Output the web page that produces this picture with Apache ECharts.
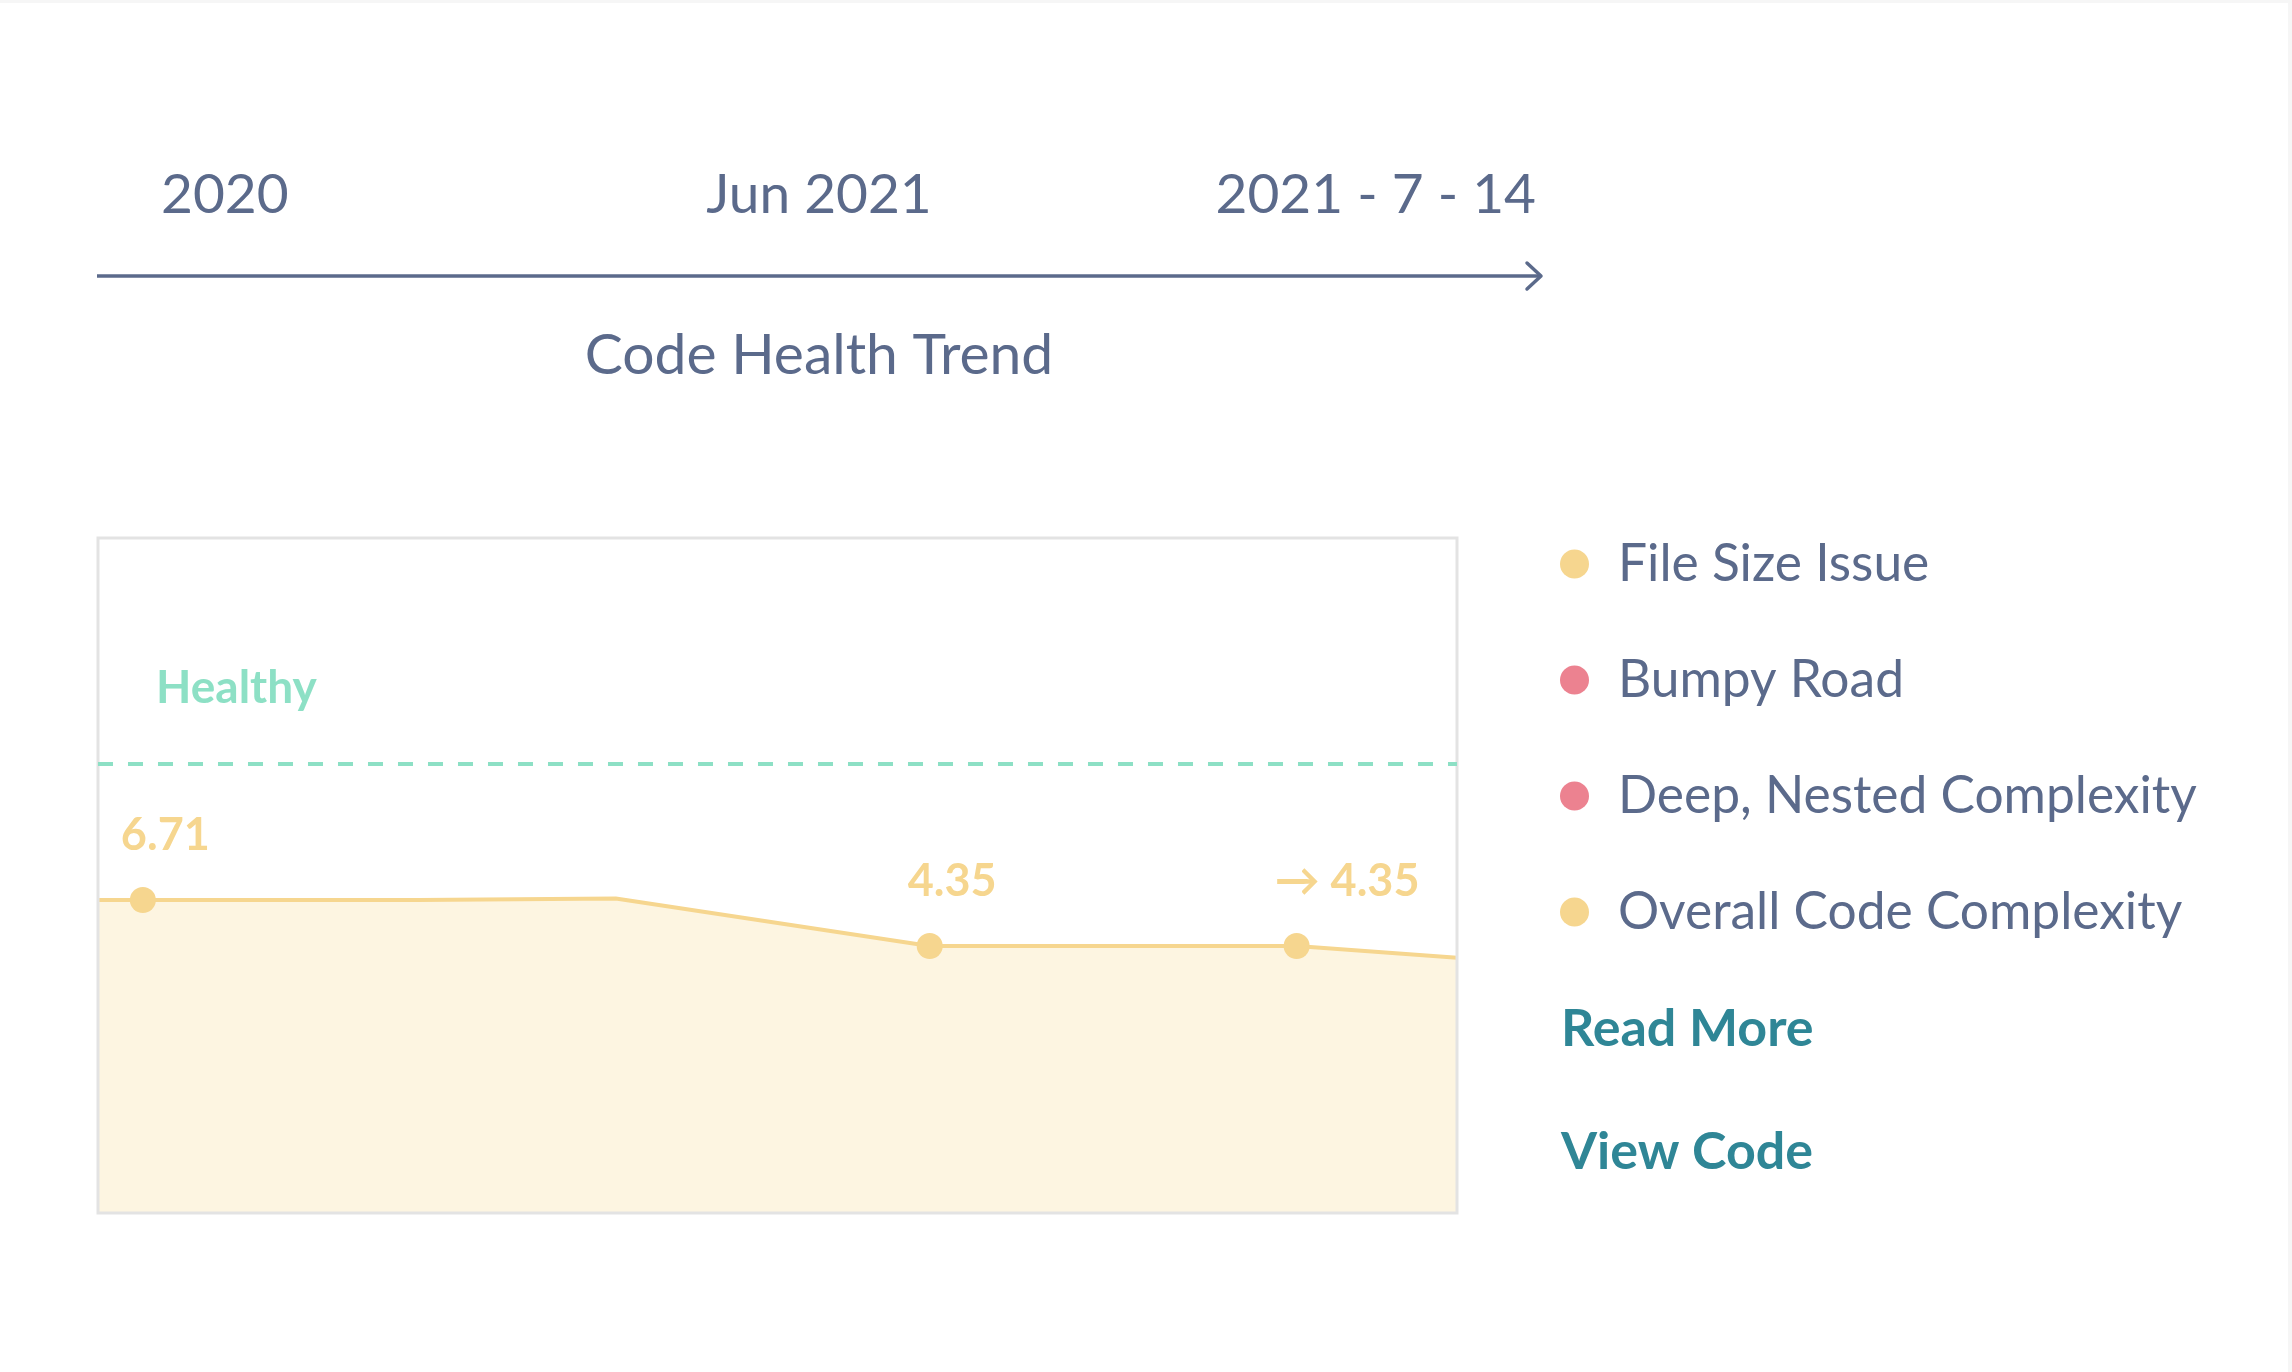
<!DOCTYPE html>
<html>
<head>
<meta charset="utf-8">
<title>Code Health Trend</title>
<script src="https://cdn.jsdelivr.net/npm/echarts@6/dist/echarts.min.js"></script>
<style>
  html, body { margin: 0; padding: 0; background: #fff; }
  #chart { width: 2292px; height: 1372px; }
</style>
</head>
<body>
<div id="chart"></div>
<script>
// timeline above the chart
const timelineLabels = ['2020', 'Jun 2021', '2021 - 7 - 14'];
const chartTitle = 'Code Health Trend';

// trend: position along the period (0 = plot start, 100 = plot end) and score
const trendX = [0, 3.3, 23.6, 38.1, 61.2, 88.2, 100];
const trendScore = [6.71, 6.71, 6.71, 6.78, 4.35, 4.35, 3.74];
const trendMarked = [false, true, false, false, true, true, false];
const trendLabels = ['', '6.71', '', '', '4.35', '→ 4.35', ''];
const healthyLevel = 13.69;
const healthyLabel = 'Healthy';

// issues listed next to the chart
const issueNames = ['File Size Issue', 'Bumpy Road', 'Deep, Nested Complexity', 'Overall Code Complexity'];
const issueSeverity = ['warning', 'problem', 'problem', 'warning'];
const actionLinks = ['Read More', 'View Code'];

const FONT = 'Lato';
const TEXT = '#5b6a8b';
const LINK = '#2f8696';
const YELLOW = '#f6d68f';
const severityColor = { warning: '#f6d68f', problem: '#ec8290' };

const chart = echarts.init(document.getElementById('chart'));

const trendData = trendX.map(function (x, i) {
    const item = { value: [x, trendScore[i]] };
    if (!trendMarked[i]) item.symbol = 'none';
    if (trendLabels[i]) {
        item.label = { show: true, formatter: trendLabels[i] };
    }
    return item;
});

const issueSeries = issueNames.map(function (name, i) {
    return {
        name: name,
        type: 'line',
        data: [],
        itemStyle: { color: severityColor[issueSeverity[i]] }
    };
});

const timelineAlign = ['left', 'center', 'right'];
const timelineX = [161, 819, 1536];
const graphics = [
    { type: 'rect', shape: { x: 0, y: 0, width: 2292, height: 3 }, style: { fill: '#f6f6f6' }, silent: true },
    { type: 'rect', shape: { x: 2288, y: 0, width: 4, height: 1372 }, style: { fill: '#f6f6f6' }, silent: true },
    {
        type: 'line',
        shape: { x1: 97, y1: 276, x2: 1540, y2: 276 },
        style: { stroke: TEXT, lineWidth: 3.5 }
    },
    {
        type: 'polyline',
        shape: { points: [[1527, 263], [1541, 276], [1527, 289]] },
        style: { stroke: TEXT, lineWidth: 3.5, fill: null, lineCap: 'round', lineJoin: 'round' }
    }
];
timelineLabels.forEach(function (t, i) {
    graphics.push({
        type: 'text',
        x: timelineX[i],
        y: 195,
        style: {
            text: t, fill: TEXT, font: '400 55px ' + FONT,
            align: timelineAlign[i], verticalAlign: 'middle'
        }
    });
});
actionLinks.forEach(function (t, i) {
    graphics.push({
        type: 'text',
        x: 1561,
        y: 1029 + i * 123,
        style: {
            text: t, fill: LINK, font: '700 52px ' + FONT,
            align: 'left', verticalAlign: 'middle'
        }
    });
});

chart.setOption({
    animation: false,
    backgroundColor: '#ffffff',
    textStyle: { fontFamily: FONT },
    title: {
        text: chartTitle,
        left: 814,
        top: 322,
        textAlign: 'center',
        textStyle: { color: TEXT, fontSize: 57, fontWeight: 400, fontFamily: FONT }
    },
    grid: {
        left: 98, top: 538, width: 1359, height: 675,
        show: true, borderColor: '#e3e3e3', borderWidth: 3,
        backgroundColor: 'transparent', z: 5
    },
    xAxis: { type: 'value', min: 0, max: 100, show: false },
    yAxis: { type: 'value', min: -9.35, max: 25.28, show: false, splitLine: { show: false } },
    legend: {
        data: issueNames,
        orient: 'vertical',
        left: 1560,
        top: 538,
        padding: 0,
        icon: 'circle',
        itemWidth: 29,
        itemHeight: 29,
        itemGap: 64,
        selectedMode: false,
        textStyle: {
            color: TEXT, fontSize: 51.5, fontFamily: FONT, lineHeight: 51,
            padding: [0, 0, 0, 24]
        }
    },
    graphic: graphics,
    series: [
        {
            name: 'Code Health',
            type: 'line',
            data: trendData,
            symbol: 'circle',
            symbolSize: 26,
            showAllSymbol: true,
            lineStyle: { color: YELLOW, width: 4 },
            itemStyle: { color: YELLOW },
            areaStyle: { color: '#fdf5e1', opacity: 1, origin: 'start' },
            label: {
                show: false,
                position: 'top',
                distance: 29,
                align: 'left',
                offset: [-22, 0],
                color: YELLOW,
                fontSize: 45,
                fontWeight: 700,
                fontFamily: FONT
            },
            markLine: {
                silent: true,
                symbol: ['none', 'none'],
                data: [{ yAxis: healthyLevel }],
                lineStyle: { color: '#8de0c5', width: 4, type: [15, 15] },
                label: {
                    show: true,
                    formatter: healthyLabel,
                    position: 'insideStartTop',
                    distance: [58, 53],
                    color: '#8de0c5',
                    fontSize: 46,
                    fontWeight: 700,
                    fontFamily: FONT
                }
            }
        }
    ].concat(issueSeries)
});
</script>
</body>
</html>
